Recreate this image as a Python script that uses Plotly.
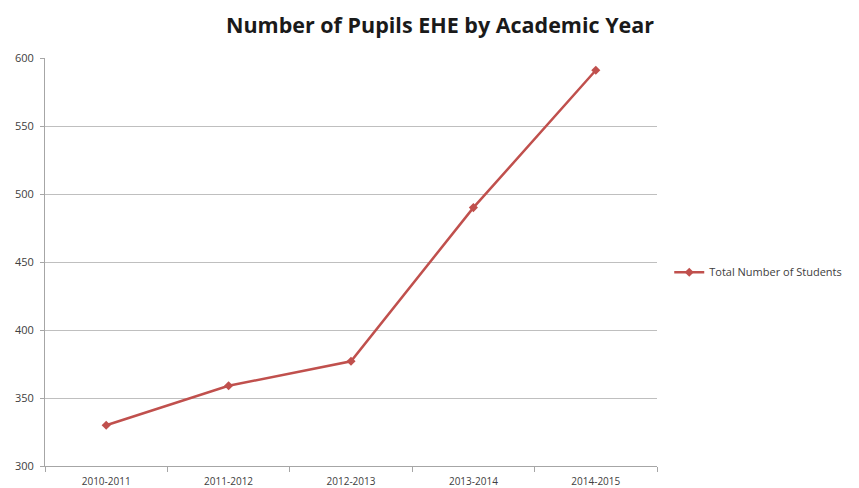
import plotly.graph_objects as go

years = ["2010-2011", "2011-2012", "2012-2013", "2013-2014", "2014-2015"]
students = [330, 359, 377, 490, 591]
y_ticks = [300, 350, 400, 450, 500, 550, 600]

fig = go.Figure()
fig.add_trace(go.Scatter(
    x=years, y=students, mode="lines+markers",
    name="Total Number of Students",
    line=dict(color="#c0504d", width=2.5),
    marker=dict(symbol="diamond", size=7, color="#c0504d"),
))

fig.update_layout(
    width=859, height=488,
    margin=dict(l=37, r=210, t=50, b=30),
    paper_bgcolor="white", plot_bgcolor="white",
    title=dict(text="<b>Number of Pupils EHE by Academic Year</b>",
               x=432 / 859, xanchor="center", y=1 - 17 / 488, yanchor="middle",
               font=dict(family="Open Sans", size=21.5, color="#1a1a1a")),
    font=dict(family="Open Sans", size=11, color="#404040"),
    showlegend=True,
    legend=dict(x=1.02, y=0.475, xanchor="left", yanchor="middle",
                font=dict(family="Open Sans", size=11, color="#404040"),
                bgcolor="rgba(0,0,0,0)"),
)
fig.update_xaxes(
    type="category", range=[-0.5, 4.5], tickson="boundaries",
    showline=True, linecolor="#a6a6a6", linewidth=1,
    ticks="outside", ticklen=5, tickcolor="#a6a6a6",
    showgrid=False, tickfont=dict(size=10, color="#404040"),
    ticklabelstandoff=6, automargin=False,
)
fig.update_yaxes(
    range=[300, 600], tickvals=y_ticks,
    showline=True, linecolor="#a6a6a6", linewidth=1,
    ticks="outside", ticklen=4, tickcolor="#a6a6a6",
    showgrid=True, gridcolor="#bfbfbf", gridwidth=1,
    zeroline=False, tickfont=dict(size=11, color="#404040"),
    ticklabelstandoff=4, automargin=False,
)

fig.write_html("out.html")
